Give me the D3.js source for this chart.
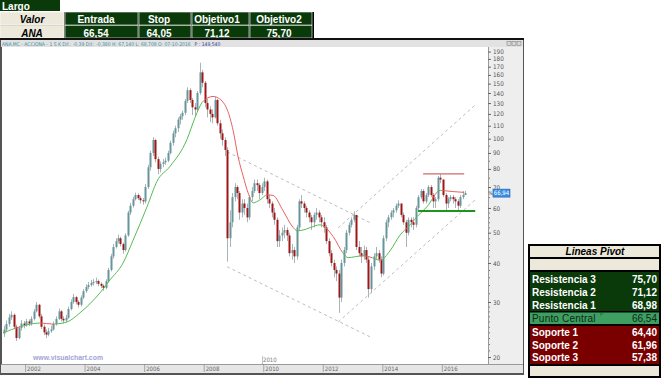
<!DOCTYPE html>
<html lang="es">
<head>
<meta charset="utf-8">
<title>ANA - Acciona</title>
<script src="https://cdn.jsdelivr.net/npm/d3@7"></script>
<style>
  html, body { margin: 0; padding: 0; background: #fff; }
  #chart svg { display: block; }
</style>
</head>
<body>
<div id="chart"></div>
<script>
// Cotizaciones mensuales de ANA (Acciona), abril 2001 - octubre 2016
const firstMonth = new Date(2001, 3, 1);
const firstOpen = 23.8;
const closes = [
  24.5, 25.5, 26.8, 27.3, 25.0, 23.0, 24.8, 25.6, 25.3,
  26.0, 25.6, 26.5, 28.0, 29.4, 27.0, 25.0, 24.0, 23.6, 24.2, 24.5, 25.5,
  26.5, 28.0, 26.5, 26.2, 26.7, 28.5, 30.0, 31.1, 30.0, 29.4, 31.0, 32.5,
  33.5, 34.0, 34.5, 34.8, 35.0, 34.3, 33.8, 33.3, 35.0, 38.0, 42.0, 45.0,
  47.0, 48.0, 46.0, 44.0, 49.0, 58.0, 61.0, 64.0, 66.0, 64.5, 63.5, 63.0,
  70, 81, 90, 99, 86, 80, 83, 84, 85, 90, 97, 104,
  108, 115, 118, 121, 132, 143, 133, 126, 124, 140, 163, 151,
  130, 124, 120, 117, 133, 112, 104, 99, 92, 48, 54, 65,
  70, 67, 58, 62, 60, 56, 65, 68, 72, 71, 67, 70,
  73, 64, 62, 58, 55, 47, 49, 50, 51, 49, 43, 44,
  42, 52, 63, 62, 60, 58, 56, 54, 57, 58, 56, 54,
  52, 47, 43, 40, 38, 37, 31, 40, 44, 50, 53, 55,
  57, 45, 43, 42, 44, 41, 33, 39, 42, 43, 41, 37,
  48, 54, 56, 58, 59, 61, 62, 57, 54, 50, 55, 54,
  53, 60, 65, 68, 63, 66, 70, 66, 63, 64, 75, 74,
  66, 62, 64, 65, 64, 63, 61, 65, 66, 66.94
];
const highs = [
  25.2, 26.2, 27.5, 28.0, 27.6, 25.4, 25.1, 26.3, 26.1,
  26.5, 26.4, 27.0, 28.5, 30.0, 29.6, 27.5, 25.4, 24.5, 24.8, 25.2, 26.0,
  27.0, 28.6, 28.3, 27.0, 27.3, 29.0, 30.6, 31.8, 31.4, 30.4, 31.5, 33.0,
  34.2, 34.8, 35.3, 35.5, 35.9, 35.4, 34.7, 34.2, 35.5, 38.6, 42.8, 46.0,
  48.0, 49.3, 48.6, 46.5, 49.8, 58.8, 62.3, 65.2, 67.2, 66.8, 65.5, 64.6,
  71.5, 82.5, 91.5, 101, 100, 87.5, 84.5, 86, 87, 91.5, 98.5, 106,
  110, 117, 120, 123, 134, 146, 145, 135, 130, 142, 175, 166,
  153, 134, 127, 124, 136, 134, 115, 107, 101, 94, 59, 67,
  72, 71, 68, 64, 64, 62, 66, 70, 74, 74, 72, 72,
  75, 74, 66, 63, 60, 56, 51, 52, 53, 52, 50, 46,
  45, 53, 64, 66, 63, 61, 59, 57, 58, 60, 59, 57,
  56, 53, 48, 44, 41, 39, 38, 41, 45, 51, 54, 56,
  58.5, 57, 47, 45, 45.5, 45, 42, 40, 43, 45, 44, 42,
  49, 55, 57, 59, 60, 62, 63.5, 62, 58, 55, 56, 56,
  56, 61, 66, 69, 69, 67, 71, 71, 67, 65, 76, 77,
  74, 67, 65, 66, 66, 65, 64, 66, 68, 68.1
];
const lows = [
  23.2, 24.0, 25.0, 26.3, 24.6, 22.5, 22.8, 24.3, 24.7,
  25.0, 25.1, 25.2, 26.2, 27.8, 26.6, 24.6, 23.5, 23.0, 23.3, 23.9, 24.3,
  25.2, 26.3, 26.0, 25.6, 25.9, 26.5, 28.2, 29.6, 29.5, 28.8, 29.0, 30.7,
  32.1, 33.0, 33.6, 33.9, 34.2, 33.7, 33.2, 32.6, 33.0, 34.7, 37.6, 41.3,
  44.5, 46.2, 45.2, 42.8, 43.5, 48.5, 57.0, 60.2, 63.4, 63.6, 62.0, 61.5,
  62, 69, 79, 88, 84, 77, 78, 81, 82.5, 84, 89, 95,
  101, 105, 111, 115, 119, 130, 130, 119, 118, 122, 138, 146,
  126, 117, 113, 112, 116, 110, 100, 95, 88, 40.4, 45, 52,
  63, 64, 55, 56, 57, 54, 55, 63, 67, 68, 64, 66,
  68, 62, 60, 56, 53, 45, 45, 47, 48, 47, 42, 41,
  40, 41, 51, 60, 58, 56, 54, 51, 52, 55, 54, 52,
  50, 46, 42, 39, 36, 35, 27.7, 30, 39, 43, 49, 52,
  54, 44, 42, 40, 41, 40, 31, 32, 38, 41, 40, 36,
  36.5, 47, 52, 55, 56, 58, 60, 56, 53, 45, 49, 52,
  51, 52, 59, 64, 62, 62, 65, 65, 60, 60, 63, 72,
  65, 59, 60, 63, 62, 60, 59, 60, 64, 66.5
];

// Media movil
const maDates = ["2001-04-05","2001-10-31","2002-07-02","2002-12-09","2003-05-30","2003-11-05","2004-07-08","2004-11-08","2005-04-17","2005-08-18","2006-02-06","2006-06-08","2006-11-14","2007-06-10","2007-09-17","2007-12-24","2008-04-25","2008-06-14","2008-10-15","2008-12-28","2009-02-27","2009-04-29","2009-06-29","2009-08-29","2009-11-23","2010-02-18","2010-05-01","2010-09-01","2011-01-02","2011-02-20","2011-05-05","2011-07-30","2011-11-29","2012-01-05","2012-05-08","2012-09-07","2012-11-07","2013-02-02","2013-05-11","2013-08-29","2013-12-05","2014-04-06","2014-08-08","2014-12-08","2015-03-04","2015-07-04","2015-12-11","2016-01-17","2016-05-19","2016-10-01"];
const maValues = [23.9,25.0,25.7,25.5,25.9,27.7,32.1,35.3,40.0,47.3,60.6,73.1,81.5,99.4,116.8,131.6,136.5,135.5,124.0,106.0,87.3,75.9,67.1,62.3,63.7,66.1,65.8,58.8,52.0,50.7,51.0,51.9,53.0,52.6,48.6,43.0,41.6,41.9,42.2,41.6,40.8,43.8,49.2,53.0,56.3,60.6,68.3,68.2,67.7,67.3];

// Canales (lineas discontinuas)
const channelStart = ["2008-10-15", "2008-10-15", "2012-07-08", "2012-07-08"];
const channelEnd   = ["2013-08-05", "2013-08-05", "2017-02-14", "2017-02-14"];
const channelFrom  = [90.7, 38.9, 51.8, 25.9];
const channelTo    = [53.8, 23.2, 128.2, 63.7];

// Resistencia y soporte horizontales
const resistLevel = 77.1, resistFrom = "2015-05-16", resistTo = "2016-10-01";
const supportLevel = 58.7, supportFrom = "2015-03-16", supportTo = "2017-02-14";

const yTicks = [20, 30, 40, 50, 60, 70, 80, 90, 100, 110, 120, 130, 140, 150, 160, 170, 180, 190];
const yMinor = [21,22,23,24,25,26,27,28,29,32,34,36,38,42,44,46,48,52,54,56,58,65,75,85,95,105,115];

// Tablas
const tableHeads = ["Valor", "Entrada", "Stop", "Objetivo1", "Objetivo2"];
const tableValues = ["ANA", "66,54", "64,05", "71,12", "75,70"];
const pivotLabels = ["Resistencia 3", "Resistencia 2", "Resistencia 1", "Punto Central", "Soporte 1", "Soporte 2", "Soporte 3"];
const pivotValues = ["75,70", "71,12", "68,98", "66,54", "64,40", "61,96", "57,38"];

const W = 661, H = 378;
const dkGreen = "#0a3a0a", beige = "#ece9da", dkRed = "#7a0000", midGreen = "#3f9f63";
const boldFont = "'Liberation Sans', Arial, sans-serif";
const narrowFont = "'Liberation Sans Narrow', 'DejaVu Sans Condensed', 'Arial Narrow', sans-serif";

const svg = d3.select("#chart").append("svg")
    .attr("width", W)
    .attr("height", H)
    .attr("font-family", boldFont);

svg.append("rect").attr("width", W).attr("height", H).attr("fill", "#fff");

// ---------- tabla superior ----------
svg.append("rect").attr("x", 0).attr("y", 0).attr("width", 60).attr("height", 11).attr("fill", dkGreen);
svg.append("text").attr("x", 2).attr("y", 9.5).text("Largo")
    .attr("fill", "#fff").attr("font-size", 10).attr("font-weight", "bold");

svg.append("rect").attr("x", 0).attr("y", 12).attr("width", 314).attr("height", 28).attr("fill", "#000");
const cellX = [0, 65, 139, 192, 250];
const cellW = [64, 73, 52, 57, 62];
const textX = [32, 96, 159, 217, 279];
tableHeads.forEach((h, i) => {
    const first = i === 0;
    svg.append("rect").attr("x", cellX[i]).attr("y", 12).attr("width", cellW[i]).attr("height", 13)
        .attr("fill", first ? beige : dkGreen).attr("stroke", "#fff").attr("stroke-width", 0.6);
    svg.append("rect").attr("x", cellX[i]).attr("y", 25.5).attr("width", cellW[i]).attr("height", 12.5)
        .attr("fill", first ? beige : dkGreen).attr("stroke", "#fff").attr("stroke-width", 0.6);
    svg.append("text").attr("x", textX[i]).attr("y", 22.5).text(h)
        .attr("text-anchor", "middle").attr("font-size", 10).attr("font-weight", "bold")
        .attr("font-style", first ? "italic" : "normal").attr("fill", first ? "#000" : "#fff");
    svg.append("text").attr("x", textX[i]).attr("y", 36.5).text(tableValues[i])
        .attr("text-anchor", "middle").attr("font-size", 10).attr("font-weight", "bold")
        .attr("font-style", first ? "italic" : "normal").attr("fill", first ? "#000" : "#fff");
});

// ---------- ventana del grafico ----------
const plot = { left: 2, right: 488, top: 47, bottom: 364 };

svg.append("rect").attr("x", 0).attr("y", 38).attr("width", 524).attr("height", 337).attr("fill", "#555");
svg.append("rect").attr("x", 0).attr("y", 38).attr("width", 524).attr("height", 2).attr("fill", "#111");
svg.append("rect").attr("x", 1).attr("y", 40).attr("width", 522).attr("height", 7).attr("fill", "#e2e2e2");
svg.append("rect").attr("x", plot.left).attr("y", plot.top)
    .attr("width", plot.right - plot.left).attr("height", plot.bottom - plot.top).attr("fill", "#fff");
svg.append("rect").attr("x", plot.right).attr("y", plot.top).attr("width", 523 - plot.right)
    .attr("height", plot.bottom - plot.top).attr("fill", "#eeeeee");
svg.append("rect").attr("x", 1).attr("y", plot.bottom).attr("width", 522).attr("height", 9).attr("fill", "#e6e6e6");
svg.append("line").attr("x1", 1).attr("x2", 523).attr("y1", plot.bottom + 0.5).attr("y2", plot.bottom + 0.5)
    .attr("stroke", "#9a9a9a");

// cabecera del grafico
const headMain = svg.append("text").attr("x", 2).attr("y", 45.5)
    .attr("font-family", narrowFont).attr("font-size", 5).attr("fill", "#3f8f9f")
    .text("ANA.MC - ACCIONA -  1 S K  Dif.: -0,39  Dif.: -0,380  H: 67,140  L: 68,708  O: 07-10-2016");
const headW = headMain.node().getComputedTextLength();
svg.append("text").attr("x", 2 + headW + 4).attr("y", 45.5)
    .attr("font-family", narrowFont).attr("font-size", 5).attr("fill", "#2f3aa0")
    .text("P : 149,540");
[507, 512, 517].forEach(bx => {
    svg.append("rect").attr("x", bx).attr("y", 41.5).attr("width", 4).attr("height", 4)
        .attr("fill", "#d8d8d8").attr("stroke", "#777").attr("stroke-width", 0.5);
});

// escalas
const x = d3.scaleTime()
    .domain([new Date(2001, 3, 5), new Date(2017, 6, 8)])
    .range([3, 487]);
const y = d3.scaleLog()
    .domain([19.0, 196.5])
    .range([plot.bottom, plot.top]);

svg.append("clipPath").attr("id", "plotClip")
    .append("rect").attr("x", plot.left).attr("y", plot.top)
    .attr("width", plot.right - plot.left).attr("height", plot.bottom - plot.top);
const g = svg.append("g").attr("clip-path", "url(#plotClip)");

const parse = d3.timeParse("%Y-%m-%d");

// velas
const candles = closes.map((c, i) => ({
    start: d3.timeMonth.offset(firstMonth, i),
    mid: new Date(firstMonth.getFullYear(), firstMonth.getMonth() + i, 15),
    end: d3.timeMonth.offset(firstMonth, i + 1),
    o: i === 0 ? firstOpen : closes[i - 1],
    h: highs[i], l: lows[i], c: c
}));

// canales
channelStart.forEach((d, i) => {
    g.append("line")
        .attr("x1", x(parse(d))).attr("y1", y(channelFrom[i]))
        .attr("x2", x(parse(channelEnd[i]))).attr("y2", y(channelTo[i]))
        .attr("stroke", "#bdbdbd").attr("stroke-width", 1).attr("stroke-dasharray", "3,3");
});

const cg = g.append("g");
cg.selectAll("line.wick").data(candles).enter().append("line")
    .attr("class", "wick")
    .attr("x1", d => Math.round(x(d.mid)) + 0.5).attr("x2", d => Math.round(x(d.mid)) + 0.5)
    .attr("y1", d => y(d.h)).attr("y2", d => y(d.l))
    .attr("stroke", "#a9b4b6").attr("stroke-width", 1);
cg.selectAll("rect.body").data(candles).enter().append("rect")
    .attr("class", "body")
    .attr("x", d => Math.round(x(d.mid)) - 0.5)
    .attr("width", 2)
    .attr("y", d => y(Math.max(d.o, d.c)))
    .attr("height", d => Math.max(1, Math.abs(y(d.o) - y(d.c))))
    .attr("fill", d => d.c >= d.o ? "#66959b" : "#9e1616");

// media movil, verde si el cierre esta por encima, roja si esta por debajo
const maPoints = maDates.map((d, i) => ({ date: parse(d), v: maValues[i] }));
const maAt = d3.scaleTime().domain(maPoints.map(p => p.date)).range(maValues).clamp(true);
const maLine = d3.line().x(d => x(d.date)).y(d => y(d.v)).curve(d3.curveMonotoneX);

const runs = [];
candles.forEach((d, i) => {
    const above = d.c >= maAt(d.mid);
    const last = runs[runs.length - 1];
    if (last && last.above === above) last.end = d.end;
    else runs.push({ above, start: i === 0 ? d3.timeMonth.offset(d.start, -1) : d.start, end: d.end });
});
runs.forEach((r, i) => {
    const id = "maClip" + i;
    svg.append("clipPath").attr("id", id).append("rect")
        .attr("x", x(r.start)).attr("y", plot.top)
        .attr("width", x(r.end) - x(r.start)).attr("height", plot.bottom - plot.top);
    g.append("path").datum(maPoints)
        .attr("clip-path", `url(#${id})`)
        .attr("d", maLine)
        .attr("fill", "none")
        .attr("stroke", r.above ? "#55bb55" : "#e86060")
        .attr("stroke-width", 1);
});

// resistencia / soporte
g.append("line")
    .attr("x1", x(parse(resistFrom))).attr("x2", x(parse(resistTo)))
    .attr("y1", y(resistLevel)).attr("y2", y(resistLevel))
    .attr("stroke", "#cf6a6a").attr("stroke-width", 1.3);
g.append("line")
    .attr("x1", x(parse(supportFrom))).attr("x2", x(parse(supportTo)))
    .attr("y1", y(supportLevel)).attr("y2", y(supportLevel))
    .attr("stroke", "#1f951f").attr("stroke-width", 2);

// marca de agua
svg.append("text").attr("x", 33).attr("y", 359.5).text("www.visualchart.com")
    .attr("font-size", 8).attr("font-weight", "bold").attr("fill", "#a3a3d6")
    .attr("textLength", 70).attr("lengthAdjust", "spacingAndGlyphs");
svg.append("text").attr("x", 263).attr("y", 362).text("2010")
    .attr("font-family", narrowFont).attr("font-size", 6).attr("fill", "#777");
svg.append("line").attr("x1", 262.5).attr("x2", 262.5).attr("y1", 356).attr("y2", 364)
    .attr("stroke", "#999").attr("stroke-width", 0.6);

// eje vertical
const gyMinor = svg.append("g").attr("transform", `translate(${plot.right},0)`)
    .call(d3.axisRight(y).tickValues(yMinor).tickFormat("").tickSize(2));
gyMinor.select(".domain").remove();
gyMinor.selectAll(".tick line").attr("stroke", "#777");

const gy = svg.append("g").attr("transform", `translate(${plot.right},0)`)
    .call(d3.axisRight(y).tickValues(yTicks).tickFormat(d => d).tickSize(3).tickPadding(2));
gy.select(".domain").attr("stroke", "#9a9a9a").attr("d", `M0.5,${plot.top}V${plot.bottom}`);
gy.selectAll(".tick line").attr("stroke", "#666");
gy.selectAll(".tick text").attr("font-family", narrowFont).attr("font-size", 6.3).attr("fill", "#555");

// eje horizontal
const gx = svg.append("g").attr("transform", `translate(0,${plot.bottom})`)
    .call(d3.axisBottom(x).ticks(d3.timeYear.every(2)).tickFormat(d3.timeFormat("%Y")).tickSize(8));
gx.select(".domain").remove();
gx.selectAll(".tick line").attr("stroke", "#888").attr("stroke-width", 0.7);
gx.selectAll(".tick text").attr("text-anchor", "start").attr("x", 1.5).attr("y", 2.5)
    .attr("font-family", narrowFont).attr("font-size", 6).attr("fill", "#666");

// ultimo precio
const lastClose = closes[closes.length - 1];
svg.append("rect").attr("x", 493).attr("y", y(lastClose) - 4).attr("width", 17).attr("height", 8)
    .attr("fill", "#3b8fe2").attr("stroke", "#1b5fb5").attr("stroke-width", 0.6);
svg.append("text").attr("x", 501.5).attr("y", y(lastClose) + 2.3).text(d3.format(",.2f")(lastClose).replace(".", ","))
    .attr("text-anchor", "middle").attr("font-family", narrowFont).attr("font-size", 6).attr("fill", "#fff");
svg.append("text").attr("x", 488.5).attr("y", y(lastClose) + 2).text("%")
    .attr("font-family", narrowFont).attr("font-size", 5).attr("fill", "#444");

// ---------- lineas pivot ----------
svg.append("rect").attr("x", 528).attr("y", 244).attr("width", 133).attr("height", 134).attr("fill", "#000");
svg.append("rect").attr("x", 530).attr("y", 246).attr("width", 129).attr("height", 11).attr("fill", beige);
svg.append("text").attr("x", 595).attr("y", 255).text("Lineas Pivot")
    .attr("text-anchor", "middle").attr("font-size", 10).attr("font-weight", "bold")
    .attr("font-style", "italic").attr("fill", "#000");
svg.append("rect").attr("x", 530).attr("y", 259).attr("width", 129).attr("height", 11).attr("fill", beige);
svg.append("rect").attr("x", 530).attr("y", 272).attr("width", 129).attr("height", 39).attr("fill", dkGreen);
svg.append("rect").attr("x", 530).attr("y", 312.5).attr("width", 129).attr("height", 11.5).attr("fill", midGreen);
svg.append("rect").attr("x", 530).attr("y", 326).attr("width", 129).attr("height", 38).attr("fill", dkRed);
svg.append("rect").attr("x", 530).attr("y", 366).attr("width", 129).attr("height", 10).attr("fill", beige);
svg.append("path").attr("d", "M600,313 h4 l-4,3 z").attr("fill", "#1c8f2c");

const pivotBase = [283, 296, 308.5, 322, 336, 348.5, 361];
pivotLabels.forEach((lab, i) => {
    const central = i === 3;
    svg.append("text").attr("x", 532).attr("y", pivotBase[i]).text(lab)
        .attr("font-size", 10).attr("font-weight", central ? "normal" : "bold")
        .attr("fill", central ? "#0b2a12" : "#fff")
        .attr("letter-spacing", central ? 0.2 : 0);
    svg.append("text").attr("x", 657).attr("y", pivotBase[i]).text(pivotValues[i])
        .attr("text-anchor", "end").attr("font-size", 10).attr("font-weight", central ? "normal" : "bold")
        .attr("fill", central ? "#0b2a12" : "#fff");
});
</script>
</body>
</html>
